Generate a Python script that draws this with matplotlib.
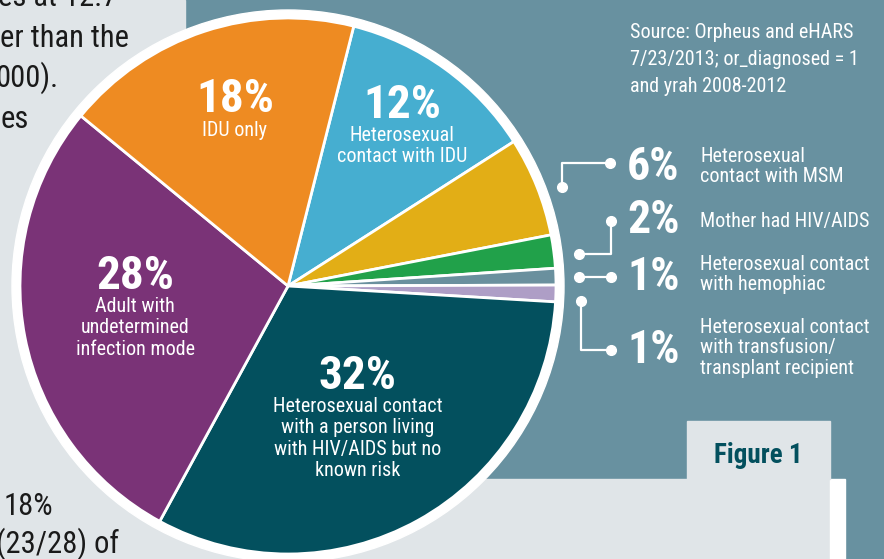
import matplotlib
matplotlib.use("Agg")
import matplotlib.pyplot as plt
from matplotlib import font_manager
from matplotlib.patches import Rectangle, Circle

# ---------------- data ----------------
slice_labels = ["Heterosexual contact with IDU", "Heterosexual contact with MSM",
                "Mother had HIV/AIDS", "Heterosexual contact with hemophiac",
                "Heterosexual contact with transfusion/transplant recipient",
                "Heterosexual contact with a person living with HIV/AIDS but no known risk",
                "Adult with undetermined infection mode", "IDU only"]
slice_values = [12, 6, 2, 1, 1, 32, 28, 18]
slice_colors = ["#46AED0", "#E2AE16", "#21A14A", "#6A909E", "#AE9EC6",
                "#03505E", "#7A3377", "#EE8B22"]

inside_pct = ["18%", "12%", "28%", "32%"]
inside_text = ["IDU only", "Heterosexual\ncontact with IDU",
               "Adult with\nundetermined\ninfection mode",
               "Heterosexual contact\nwith a person living\nwith HIV/AIDS but no\nknown risk"]

right_pct = ["6%", "2%", "1%", "1%"]
right_text = ["Heterosexual\ncontact with MSM", "Mother had HIV/AIDS",
              "Heterosexual contact\nwith hemophiac",
              "Heterosexual contact\nwith transfusion/\ntransplant recipient"]

source_text = ["Source: Orpheus and eHARS", "7/23/2013; or_diagnosed = 1",
               "and yrah 2008-2012"]
body_top = ["es at 12.7", "er than the", "000).", "es"]
body_bottom = ["18%", "(23/28) of"]
figure_label = "Figure 1"

# ---------------- fonts ----------------
names = {f.name for f in font_manager.fontManager.ttflist}
family = "DejaVu Sans"
for cand in ["Liberation Sans Narrow", "Roboto Condensed", "Open Sans Condensed", "Roboto", "Liberation Sans"]:
    if cand in names:
        family = cand
        break
plt.rcParams["font.family"] = [family, "DejaVu Sans"]

W, H = 884, 559
fig = plt.figure(figsize=(W / 100, H / 100), dpi=100)
ax = fig.add_axes([0, 0, 1, 1])


def Y(y):
    return H - y


TEAL = "#6891A0"
LGRAY = "#E0E5E8"
DARK = "#03505E"

# backgrounds
ax.add_patch(Rectangle((0, 0), W, H, color=TEAL, zorder=0))
ax.add_patch(Rectangle((0, 0), 185, H, color=LGRAY, zorder=0.1))
ax.add_patch(Rectangle((0, 0), 830, Y(479), color=LGRAY, zorder=0.1))
ax.add_patch(Rectangle((830, 0), 15, Y(479), color="white", zorder=0.1))
ax.add_patch(Rectangle((687, Y(479)), 143, 58, color=LGRAY, zorder=0.1))

# body text (partially hidden behind pie)
for s, (x, y) in zip(body_top, [(-2, 6), (0, 47), (-5, 87), (0, 128)]):
    ax.text(x, Y(y), s, fontsize=22, color="#1A1A1A", va="baseline", ha="left", zorder=1)
for s, (x, y) in zip(body_bottom, [(4, 515), (-4, 553)]):
    ax.text(x, Y(y), s, fontsize=22, color="#1A1A1A", va="baseline", ha="left", zorder=1)

# pie
cx, cy, r = 288, Y(286), 268
ax.add_patch(Circle((cx, cy), r + 8, color="white", zorder=2))
wedges, _ = ax.pie(slice_values, colors=slice_colors, startangle=75.8, counterclock=False,
                   center=(cx, cy), radius=r, frame=True,
                   wedgeprops=dict(edgecolor="white", linewidth=2))
for w in wedges:
    w.set_zorder(3)

# inside labels
inside_pos = [(235, 112), (402, 118), (135, 289), (358, 389)]
inside_first = [136, 141, 312, 412]
for p, t, (x, y), y1 in zip(inside_pct, inside_text, inside_pos, inside_first):
    ax.text(x, Y(y), p, fontsize=34, fontweight="bold", color="white",
            ha="center", va="baseline", zorder=5)
    for i, line in enumerate(t.split("\n")):
        ax.text(x, Y(y1 + i * 21.3), line, fontsize=14.5, color="white",
                ha="center", va="baseline", zorder=5)

# right labels
right_base = [180, 233, 290, 363]
right_first = [162, 227, 270, 333]
for p, t, yb, y1 in zip(right_pct, right_text, right_base, right_first):
    ax.text(627, Y(yb), p, fontsize=33, fontweight="bold", color="white",
            ha="left", va="baseline", zorder=5)
    for i, line in enumerate(t.split("\n")):
        ax.text(700, Y(y1 + i * 20.5), line, fontsize=14.5, color="white",
                ha="left", va="baseline", zorder=5)

# connectors
connectors = [
    [(610, 163), (562, 163), (562, 187)],
    [(611, 221), (611, 254), (579, 254)],
    [(579, 277), (611, 277)],
    [(581, 301), (581, 350), (611, 350)],
]
for pts in connectors:
    xs = [p[0] for p in pts]
    ys = [Y(p[1]) for p in pts]
    ax.plot(xs, ys, color="white", lw=1.6, zorder=4, solid_capstyle="butt")
    ax.plot([xs[0], xs[-1]], [ys[0], ys[-1]], "o", color="white", ms=7, zorder=4)

# source
for i, s in enumerate(source_text):
    ax.text(630, Y(38 + i * 27), s, fontsize=14.5, color="white", ha="left",
            va="baseline", zorder=5)

# figure label
ax.text(758, Y(463), figure_label, fontsize=19.5, fontweight="bold", color=DARK,
        ha="center", va="baseline", zorder=5)

ax.set_xlim(0, W)
ax.set_ylim(0, H)
ax.set_aspect("auto")
ax.axis("off")
fig.savefig("out.png", dpi=100)
